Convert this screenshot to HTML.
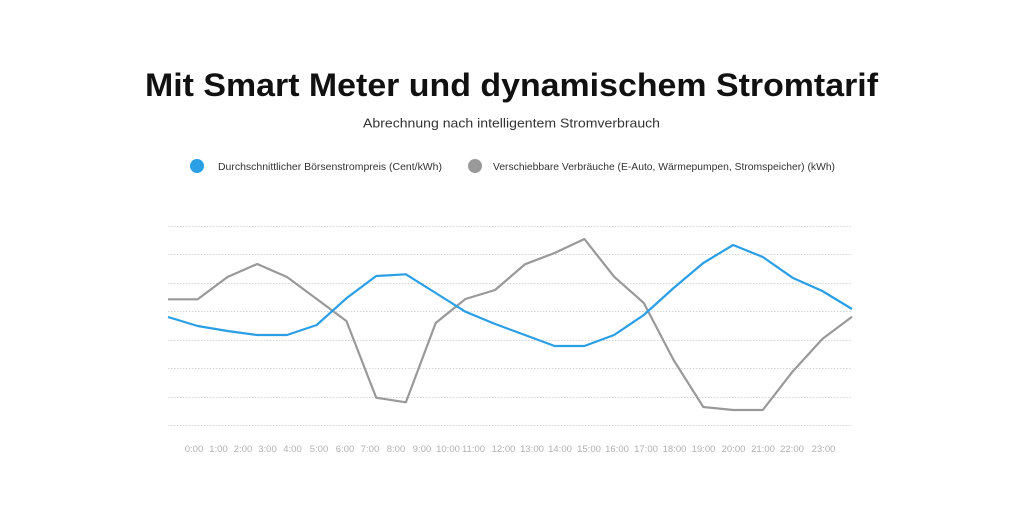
<!DOCTYPE html>
<html>
<head>
<meta charset="utf-8">
<style>
html,body{margin:0;padding:0;background:#fff;}
body{width:1024px;height:512px;overflow:hidden;}
svg{display:block;}
</style>
</head>
<body>
<svg width="1024" height="512" viewBox="0 0 1024 512" xmlns="http://www.w3.org/2000/svg">
  <rect width="1024" height="512" fill="#fff"/>
  <text x="511.5" y="96" text-anchor="middle" font-family="Liberation Sans, sans-serif" font-weight="bold" font-size="32" fill="#111" textLength="733" lengthAdjust="spacingAndGlyphs">Mit Smart Meter und dynamischem Stromtarif</text>
  <text x="511.5" y="127.5" text-anchor="middle" font-family="Liberation Sans, sans-serif" font-size="13" fill="#333" textLength="297" lengthAdjust="spacingAndGlyphs">Abrechnung nach intelligentem Stromverbrauch</text>

  <circle cx="197" cy="166" r="7" fill="#2a9fe6"/>
  <text x="218" y="170" font-family="Liberation Sans, sans-serif" font-size="10.5" fill="#333" textLength="224" lengthAdjust="spacingAndGlyphs">Durchschnittlicher Börsenstrompreis (Cent/kWh)</text>
  <circle cx="475" cy="166" r="7" fill="#999"/>
  <text x="493" y="170" font-family="Liberation Sans, sans-serif" font-size="10.5" fill="#333" textLength="342" lengthAdjust="spacingAndGlyphs">Verschiebbare Verbräuche (E-Auto, Wärmepumpen, Stromspeicher) (kWh)</text>

  <g stroke="#d6d6d6" stroke-width="1" stroke-dasharray="1.5,1.5">
    <line x1="168" y1="226.5" x2="852" y2="226.5"/>
    <line x1="168" y1="254.5" x2="852" y2="254.5"/>
    <line x1="168" y1="283.5" x2="852" y2="283.5"/>
    <line x1="168" y1="311.5" x2="852" y2="311.5"/>
    <line x1="168" y1="340.5" x2="852" y2="340.5"/>
    <line x1="168" y1="368.5" x2="852" y2="368.5"/>
    <line x1="168" y1="397.5" x2="852" y2="397.5"/>
    <line x1="168" y1="425.5" x2="852" y2="425.5"/>
  </g>

  <polyline fill="none" stroke="#999" stroke-width="2.2" stroke-linejoin="round"
    points="168,299.3 197.7,299.3 227.5,277 257.2,264 287,277 316.7,299 346.4,321 376.2,397.7 405.9,402.3 435.7,323 465.4,299 495.1,290 524.9,264.3 554.6,253 584.4,239 614.1,276.7 643.8,303 673.6,360 703.3,407 733.1,410 762.8,410 792.5,371.7 822.3,339 852,316.7"/>
  <polyline fill="none" stroke="#2a9fe6" stroke-width="2.2" stroke-linejoin="round"
    points="168,317 197.7,326 227.5,331 257.2,335 287,335 316.7,325 346.4,298.3 376.2,276 405.9,274.3 435.7,293 465.4,311.7 495.1,324 524.9,335 554.6,346 584.4,346 614.1,335 643.8,315 673.6,288 703.3,263 733.1,245 762.8,257 792.5,277.7 822.3,291 852,309"/>

  <g font-family="Liberation Sans, sans-serif" font-size="9.5" fill="#b0b0b0" text-anchor="middle">
    <text x="194" y="452">0:00</text>
    <text x="218.5" y="452">1:00</text>
    <text x="243" y="452">2:00</text>
    <text x="267.5" y="452">3:00</text>
    <text x="292.5" y="452">4:00</text>
    <text x="319" y="452">5:00</text>
    <text x="345" y="452">6:00</text>
    <text x="370" y="452">7:00</text>
    <text x="396" y="452">8:00</text>
    <text x="422" y="452">9:00</text>
    <text x="448" y="452">10:00</text>
    <text x="473.5" y="452">11:00</text>
    <text x="503.5" y="452">12:00</text>
    <text x="532" y="452">13:00</text>
    <text x="560" y="452">14:00</text>
    <text x="589" y="452">15:00</text>
    <text x="617" y="452">16:00</text>
    <text x="646" y="452">17:00</text>
    <text x="674.5" y="452">18:00</text>
    <text x="703.5" y="452">19:00</text>
    <text x="733.5" y="452">20:00</text>
    <text x="763" y="452">21:00</text>
    <text x="792" y="452">22:00</text>
    <text x="823.5" y="452">23:00</text>
  </g>
</svg>
</body>
</html>
